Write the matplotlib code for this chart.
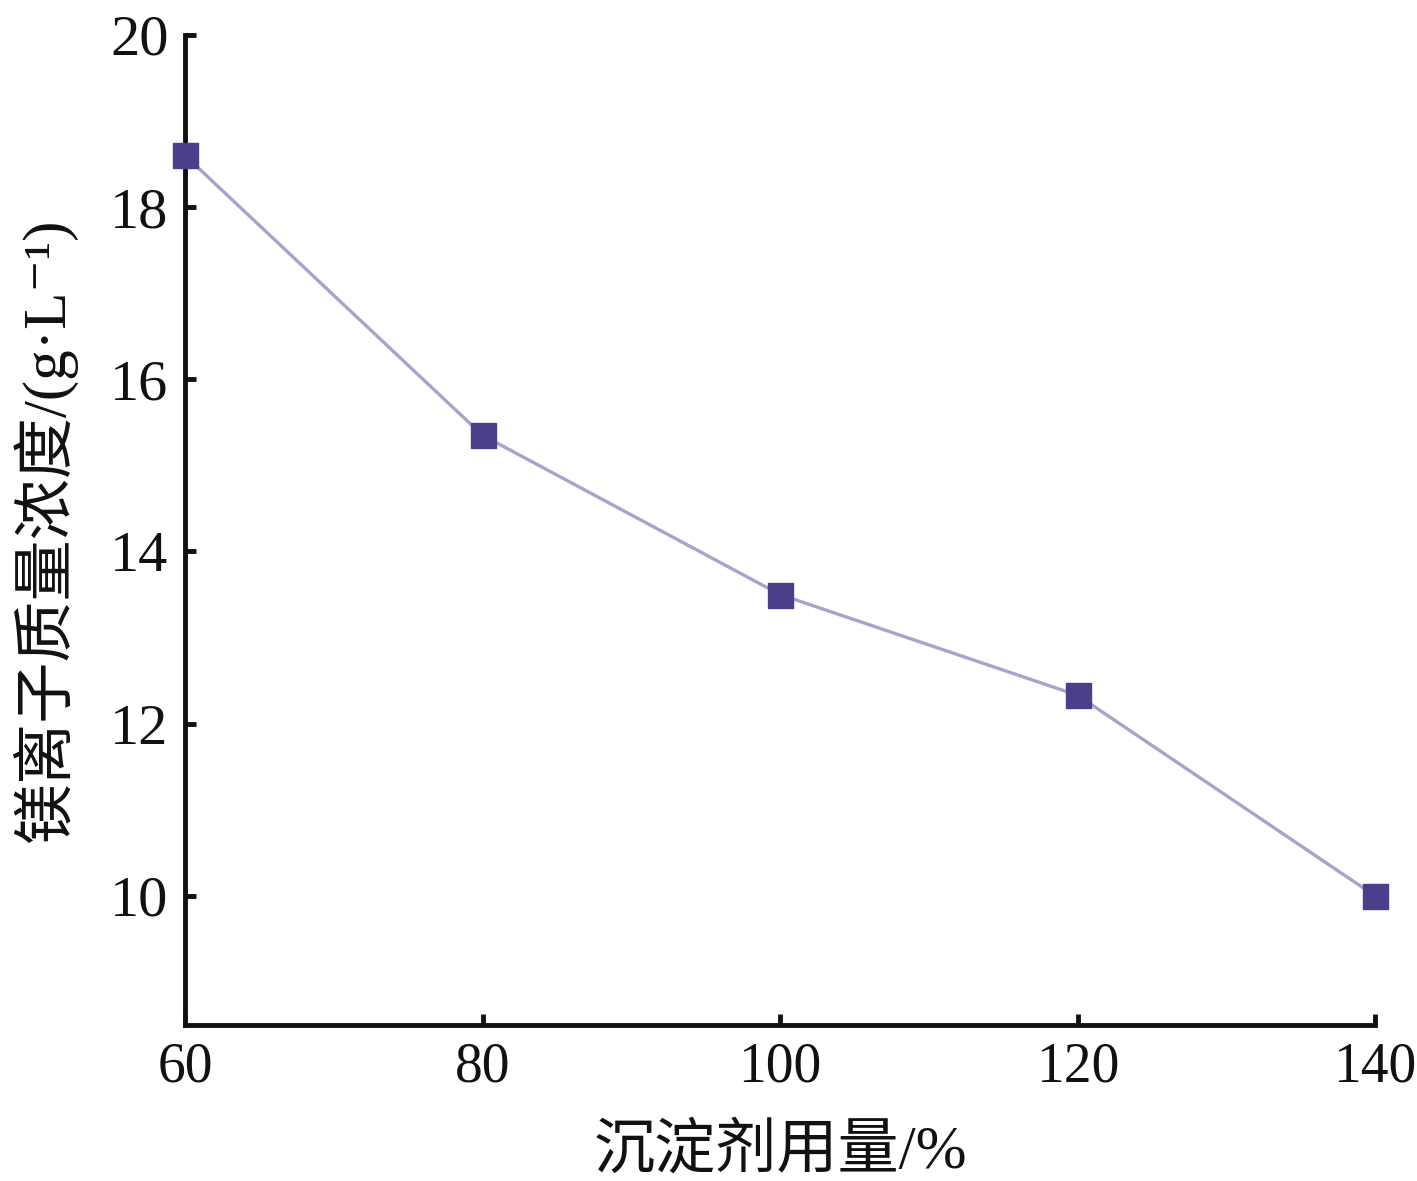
import numpy as np
import matplotlib
matplotlib.use('Agg')
import matplotlib.pyplot as plt

plt.rcParams['font.family'] = ['Liberation Serif', 'Noto Sans CJK SC', 'DejaVu Serif']

# 数据
dosage = [60, 80, 100, 120, 140]
mg_conc = [18.6, 15.35, 13.5, 12.33, 10.0]
x_ticks = [60, 80, 100, 120, 140]
y_ticks = [10, 12, 14, 16, 18, 20]

fig = plt.figure(figsize=(14.17, 11.81), dpi=100)
ax = fig.add_axes([0.1306, 0.1321, 0.8398, 0.8383])

ax.plot(dosage, mg_conc, color='#a9a2cc', linewidth=2.4, zorder=2)
ax.plot(dosage, mg_conc, linestyle='none', marker='s', markersize=18,
        color='#4b3f8c', zorder=3, clip_on=False)

ax.set_xlim(60, 140)
ax.set_ylim(8.5, 20)
ax.set_xticks(x_ticks)
ax.set_yticks(y_ticks)

for s in ['top', 'right']:
    ax.spines[s].set_visible(False)
for s in ['left', 'bottom']:
    ax.spines[s].set_linewidth(3.5)
    ax.spines[s].set_color('#111111')

ax.tick_params(direction='in', length=8, width=3.5, labelsize=40, pad=12,
               colors='#111111')
ax.tick_params(axis='y', labelsize=42, pad=12)

ax.set_xlabel('沉淀剂用量/%', fontsize=44, labelpad=22, color='#111111')
ax.set_ylabel('镁离子质量浓度/(g·L⁻¹)', fontsize=44, labelpad=24, color='#111111')

fig.savefig('out.png', dpi=100)
